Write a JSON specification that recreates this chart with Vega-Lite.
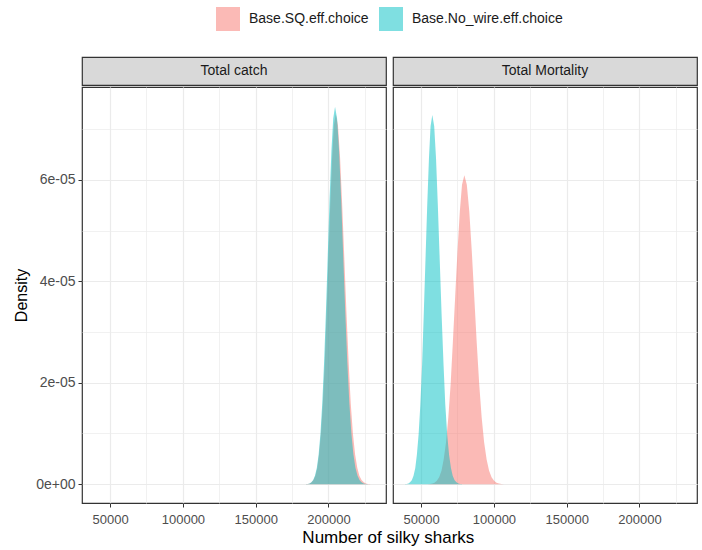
{
  "$schema": "https://vega.github.io/schema/vega-lite/v6.json",
  "autosize": {"type": "pad"},
  "padding": {"left": 13, "top": 7, "right": 4, "bottom": 4},
  "background": "white",
  "title": {
    "text": "Number of silky sharks",
    "orient": "bottom",
    "anchor": "middle",
    "font": "Liberation Sans",
    "fontSize": 17,
    "fontWeight": "normal",
    "color": "#000000",
    "offset": 3,
    "dx": 33
  },
  "datasets": {
    "strips": [{"panel": "Total catch"}, {"panel": "Total Mortality"}],
    "dens": [
      {"panel": "Total catch", "series": "Base.SQ.eff.choice", "x": 184600, "density": 0.0022e-5},
      {"panel": "Total catch", "series": "Base.SQ.eff.choice", "x": 185900, "density": 0.0066e-5},
      {"panel": "Total catch", "series": "Base.SQ.eff.choice", "x": 187200, "density": 0.0161e-5},
      {"panel": "Total catch", "series": "Base.SQ.eff.choice", "x": 188400, "density": 0.0372e-5},
      {"panel": "Total catch", "series": "Base.SQ.eff.choice", "x": 189700, "density": 0.0810e-5},
      {"panel": "Total catch", "series": "Base.SQ.eff.choice", "x": 191000, "density": 0.166e-5},
      {"panel": "Total catch", "series": "Base.SQ.eff.choice", "x": 192300, "density": 0.320e-5},
      {"panel": "Total catch", "series": "Base.SQ.eff.choice", "x": 193500, "density": 0.581e-5},
      {"panel": "Total catch", "series": "Base.SQ.eff.choice", "x": 194800, "density": 0.988e-5},
      {"panel": "Total catch", "series": "Base.SQ.eff.choice", "x": 196100, "density": 1.579e-5},
      {"panel": "Total catch", "series": "Base.SQ.eff.choice", "x": 197400, "density": 2.370e-5},
      {"panel": "Total catch", "series": "Base.SQ.eff.choice", "x": 198600, "density": 3.342e-5},
      {"panel": "Total catch", "series": "Base.SQ.eff.choice", "x": 199900, "density": 4.427e-5},
      {"panel": "Total catch", "series": "Base.SQ.eff.choice", "x": 201200, "density": 5.510e-5},
      {"panel": "Total catch", "series": "Base.SQ.eff.choice", "x": 202500, "density": 6.442e-5},
      {"panel": "Total catch", "series": "Base.SQ.eff.choice", "x": 203700, "density": 7.075e-5},
      {"panel": "Total catch", "series": "Base.SQ.eff.choice", "x": 205000, "density": 7.30e-5},
      {"panel": "Total catch", "series": "Base.SQ.eff.choice", "x": 206500, "density": 7.075e-5},
      {"panel": "Total catch", "series": "Base.SQ.eff.choice", "x": 207950, "density": 6.442e-5},
      {"panel": "Total catch", "series": "Base.SQ.eff.choice", "x": 209400, "density": 5.510e-5},
      {"panel": "Total catch", "series": "Base.SQ.eff.choice", "x": 210900, "density": 4.427e-5},
      {"panel": "Total catch", "series": "Base.SQ.eff.choice", "x": 212400, "density": 3.342e-5},
      {"panel": "Total catch", "series": "Base.SQ.eff.choice", "x": 213900, "density": 2.370e-5},
      {"panel": "Total catch", "series": "Base.SQ.eff.choice", "x": 215300, "density": 1.579e-5},
      {"panel": "Total catch", "series": "Base.SQ.eff.choice", "x": 216800, "density": 0.988e-5},
      {"panel": "Total catch", "series": "Base.SQ.eff.choice", "x": 218300, "density": 0.581e-5},
      {"panel": "Total catch", "series": "Base.SQ.eff.choice", "x": 219800, "density": 0.320e-5},
      {"panel": "Total catch", "series": "Base.SQ.eff.choice", "x": 221200, "density": 0.166e-5},
      {"panel": "Total catch", "series": "Base.SQ.eff.choice", "x": 222700, "density": 0.0810e-5},
      {"panel": "Total catch", "series": "Base.SQ.eff.choice", "x": 224200, "density": 0.0372e-5},
      {"panel": "Total catch", "series": "Base.SQ.eff.choice", "x": 225700, "density": 0.0161e-5},
      {"panel": "Total catch", "series": "Base.SQ.eff.choice", "x": 227100, "density": 0.0066e-5},
      {"panel": "Total catch", "series": "Base.SQ.eff.choice", "x": 228600, "density": 0.0022e-5},

      {"panel": "Total catch", "series": "Base.No_wire.eff.choice", "x": 184500, "density": 0.0022e-5},
      {"panel": "Total catch", "series": "Base.No_wire.eff.choice", "x": 185750, "density": 0.0067e-5},
      {"panel": "Total catch", "series": "Base.No_wire.eff.choice", "x": 187000, "density": 0.0164e-5},
      {"panel": "Total catch", "series": "Base.No_wire.eff.choice", "x": 188250, "density": 0.0379e-5},
      {"panel": "Total catch", "series": "Base.No_wire.eff.choice", "x": 189500, "density": 0.0826e-5},
      {"panel": "Total catch", "series": "Base.No_wire.eff.choice", "x": 190750, "density": 0.170e-5},
      {"panel": "Total catch", "series": "Base.No_wire.eff.choice", "x": 192000, "density": 0.327e-5},
      {"panel": "Total catch", "series": "Base.No_wire.eff.choice", "x": 193250, "density": 0.592e-5},
      {"panel": "Total catch", "series": "Base.No_wire.eff.choice", "x": 194500, "density": 1.007e-5},
      {"panel": "Total catch", "series": "Base.No_wire.eff.choice", "x": 195750, "density": 1.609e-5},
      {"panel": "Total catch", "series": "Base.No_wire.eff.choice", "x": 197000, "density": 2.416e-5},
      {"panel": "Total catch", "series": "Base.No_wire.eff.choice", "x": 198250, "density": 3.406e-5},
      {"panel": "Total catch", "series": "Base.No_wire.eff.choice", "x": 199500, "density": 4.512e-5},
      {"panel": "Total catch", "series": "Base.No_wire.eff.choice", "x": 200750, "density": 5.616e-5},
      {"panel": "Total catch", "series": "Base.No_wire.eff.choice", "x": 202000, "density": 6.566e-5},
      {"panel": "Total catch", "series": "Base.No_wire.eff.choice", "x": 203250, "density": 7.211e-5},
      {"panel": "Total catch", "series": "Base.No_wire.eff.choice", "x": 204500, "density": 7.44e-5},
      {"panel": "Total catch", "series": "Base.No_wire.eff.choice", "x": 205900, "density": 7.211e-5},
      {"panel": "Total catch", "series": "Base.No_wire.eff.choice", "x": 207300, "density": 6.566e-5},
      {"panel": "Total catch", "series": "Base.No_wire.eff.choice", "x": 208700, "density": 5.616e-5},
      {"panel": "Total catch", "series": "Base.No_wire.eff.choice", "x": 210100, "density": 4.512e-5},
      {"panel": "Total catch", "series": "Base.No_wire.eff.choice", "x": 211500, "density": 3.406e-5},
      {"panel": "Total catch", "series": "Base.No_wire.eff.choice", "x": 212900, "density": 2.416e-5},
      {"panel": "Total catch", "series": "Base.No_wire.eff.choice", "x": 214300, "density": 1.609e-5},
      {"panel": "Total catch", "series": "Base.No_wire.eff.choice", "x": 215700, "density": 1.007e-5},
      {"panel": "Total catch", "series": "Base.No_wire.eff.choice", "x": 217100, "density": 0.592e-5},
      {"panel": "Total catch", "series": "Base.No_wire.eff.choice", "x": 218500, "density": 0.327e-5},
      {"panel": "Total catch", "series": "Base.No_wire.eff.choice", "x": 219900, "density": 0.170e-5},
      {"panel": "Total catch", "series": "Base.No_wire.eff.choice", "x": 221300, "density": 0.0826e-5},
      {"panel": "Total catch", "series": "Base.No_wire.eff.choice", "x": 222700, "density": 0.0379e-5},
      {"panel": "Total catch", "series": "Base.No_wire.eff.choice", "x": 224100, "density": 0.0164e-5},
      {"panel": "Total catch", "series": "Base.No_wire.eff.choice", "x": 225500, "density": 0.0067e-5},
      {"panel": "Total catch", "series": "Base.No_wire.eff.choice", "x": 226900, "density": 0.0022e-5},

      {"panel": "Total Mortality", "series": "Base.SQ.eff.choice", "x": 54500, "density": 0.0018e-5},
      {"panel": "Total Mortality", "series": "Base.SQ.eff.choice", "x": 56100, "density": 0.0055e-5},
      {"panel": "Total Mortality", "series": "Base.SQ.eff.choice", "x": 57700, "density": 0.0134e-5},
      {"panel": "Total Mortality", "series": "Base.SQ.eff.choice", "x": 59200, "density": 0.0311e-5},
      {"panel": "Total Mortality", "series": "Base.SQ.eff.choice", "x": 60800, "density": 0.0676e-5},
      {"panel": "Total Mortality", "series": "Base.SQ.eff.choice", "x": 62400, "density": 0.139e-5},
      {"panel": "Total Mortality", "series": "Base.SQ.eff.choice", "x": 64000, "density": 0.267e-5},
      {"panel": "Total Mortality", "series": "Base.SQ.eff.choice", "x": 65500, "density": 0.485e-5},
      {"panel": "Total Mortality", "series": "Base.SQ.eff.choice", "x": 67100, "density": 0.824e-5},
      {"panel": "Total Mortality", "series": "Base.SQ.eff.choice", "x": 68700, "density": 1.317e-5},
      {"panel": "Total Mortality", "series": "Base.SQ.eff.choice", "x": 70300, "density": 1.977e-5},
      {"panel": "Total Mortality", "series": "Base.SQ.eff.choice", "x": 71800, "density": 2.788e-5},
      {"panel": "Total Mortality", "series": "Base.SQ.eff.choice", "x": 73400, "density": 3.694e-5},
      {"panel": "Total Mortality", "series": "Base.SQ.eff.choice", "x": 75000, "density": 4.597e-5},
      {"panel": "Total Mortality", "series": "Base.SQ.eff.choice", "x": 76600, "density": 5.374e-5},
      {"panel": "Total Mortality", "series": "Base.SQ.eff.choice", "x": 78100, "density": 5.902e-5},
      {"panel": "Total Mortality", "series": "Base.SQ.eff.choice", "x": 79700, "density": 6.09e-5},
      {"panel": "Total Mortality", "series": "Base.SQ.eff.choice", "x": 81400, "density": 5.902e-5},
      {"panel": "Total Mortality", "series": "Base.SQ.eff.choice", "x": 83100, "density": 5.374e-5},
      {"panel": "Total Mortality", "series": "Base.SQ.eff.choice", "x": 84800, "density": 4.597e-5},
      {"panel": "Total Mortality", "series": "Base.SQ.eff.choice", "x": 86500, "density": 3.694e-5},
      {"panel": "Total Mortality", "series": "Base.SQ.eff.choice", "x": 88200, "density": 2.788e-5},
      {"panel": "Total Mortality", "series": "Base.SQ.eff.choice", "x": 89900, "density": 1.977e-5},
      {"panel": "Total Mortality", "series": "Base.SQ.eff.choice", "x": 91600, "density": 1.317e-5},
      {"panel": "Total Mortality", "series": "Base.SQ.eff.choice", "x": 93300, "density": 0.824e-5},
      {"panel": "Total Mortality", "series": "Base.SQ.eff.choice", "x": 95000, "density": 0.485e-5},
      {"panel": "Total Mortality", "series": "Base.SQ.eff.choice", "x": 96700, "density": 0.267e-5},
      {"panel": "Total Mortality", "series": "Base.SQ.eff.choice", "x": 98400, "density": 0.139e-5},
      {"panel": "Total Mortality", "series": "Base.SQ.eff.choice", "x": 100100, "density": 0.0676e-5},
      {"panel": "Total Mortality", "series": "Base.SQ.eff.choice", "x": 101800, "density": 0.0311e-5},
      {"panel": "Total Mortality", "series": "Base.SQ.eff.choice", "x": 103500, "density": 0.0134e-5},
      {"panel": "Total Mortality", "series": "Base.SQ.eff.choice", "x": 105200, "density": 0.0055e-5},
      {"panel": "Total Mortality", "series": "Base.SQ.eff.choice", "x": 106900, "density": 0.0018e-5},

      {"panel": "Total Mortality", "series": "Base.No_wire.eff.choice", "x": 38900, "density": 0.0022e-5},
      {"panel": "Total Mortality", "series": "Base.No_wire.eff.choice", "x": 40100, "density": 0.0066e-5},
      {"panel": "Total Mortality", "series": "Base.No_wire.eff.choice", "x": 41300, "density": 0.0160e-5},
      {"panel": "Total Mortality", "series": "Base.No_wire.eff.choice", "x": 42400, "density": 0.0371e-5},
      {"panel": "Total Mortality", "series": "Base.No_wire.eff.choice", "x": 43600, "density": 0.0808e-5},
      {"panel": "Total Mortality", "series": "Base.No_wire.eff.choice", "x": 44800, "density": 0.166e-5},
      {"panel": "Total Mortality", "series": "Base.No_wire.eff.choice", "x": 46000, "density": 0.320e-5},
      {"panel": "Total Mortality", "series": "Base.No_wire.eff.choice", "x": 47100, "density": 0.579e-5},
      {"panel": "Total Mortality", "series": "Base.No_wire.eff.choice", "x": 48300, "density": 0.985e-5},
      {"panel": "Total Mortality", "series": "Base.No_wire.eff.choice", "x": 49500, "density": 1.575e-5},
      {"panel": "Total Mortality", "series": "Base.No_wire.eff.choice", "x": 50700, "density": 2.364e-5},
      {"panel": "Total Mortality", "series": "Base.No_wire.eff.choice", "x": 51800, "density": 3.333e-5},
      {"panel": "Total Mortality", "series": "Base.No_wire.eff.choice", "x": 53000, "density": 4.415e-5},
      {"panel": "Total Mortality", "series": "Base.No_wire.eff.choice", "x": 54200, "density": 5.495e-5},
      {"panel": "Total Mortality", "series": "Base.No_wire.eff.choice", "x": 55400, "density": 6.425e-5},
      {"panel": "Total Mortality", "series": "Base.No_wire.eff.choice", "x": 56500, "density": 7.056e-5},
      {"panel": "Total Mortality", "series": "Base.No_wire.eff.choice", "x": 57700, "density": 7.28e-5},
      {"panel": "Total Mortality", "series": "Base.No_wire.eff.choice", "x": 59000, "density": 7.056e-5},
      {"panel": "Total Mortality", "series": "Base.No_wire.eff.choice", "x": 60250, "density": 6.425e-5},
      {"panel": "Total Mortality", "series": "Base.No_wire.eff.choice", "x": 61500, "density": 5.495e-5},
      {"panel": "Total Mortality", "series": "Base.No_wire.eff.choice", "x": 62800, "density": 4.415e-5},
      {"panel": "Total Mortality", "series": "Base.No_wire.eff.choice", "x": 64100, "density": 3.333e-5},
      {"panel": "Total Mortality", "series": "Base.No_wire.eff.choice", "x": 65400, "density": 2.364e-5},
      {"panel": "Total Mortality", "series": "Base.No_wire.eff.choice", "x": 66600, "density": 1.575e-5},
      {"panel": "Total Mortality", "series": "Base.No_wire.eff.choice", "x": 67900, "density": 0.985e-5},
      {"panel": "Total Mortality", "series": "Base.No_wire.eff.choice", "x": 69200, "density": 0.579e-5},
      {"panel": "Total Mortality", "series": "Base.No_wire.eff.choice", "x": 70500, "density": 0.320e-5},
      {"panel": "Total Mortality", "series": "Base.No_wire.eff.choice", "x": 71700, "density": 0.166e-5},
      {"panel": "Total Mortality", "series": "Base.No_wire.eff.choice", "x": 73000, "density": 0.0808e-5},
      {"panel": "Total Mortality", "series": "Base.No_wire.eff.choice", "x": 74300, "density": 0.0371e-5},
      {"panel": "Total Mortality", "series": "Base.No_wire.eff.choice", "x": 75600, "density": 0.0160e-5},
      {"panel": "Total Mortality", "series": "Base.No_wire.eff.choice", "x": 76800, "density": 0.0066e-5},
      {"panel": "Total Mortality", "series": "Base.No_wire.eff.choice", "x": 78100, "density": 0.0022e-5}
    ]
  },
  "config": {
    "font": "Liberation Sans",
    "view": {"stroke": "#333333", "strokeWidth": 1.2},
    "axis": {
      "domain": false,
      "gridColor": "#EBEBEB",
      "tickColor": "#333333",
      "tickSize": 4,
      "labelColor": "#4D4D4D",
      "labelFont": "Liberation Sans",
      "labelFontSize": 13,
      "labelPadding": 3,
      "labelOverlap": false,
      "labelFlush": false,
      "titleFont": "Liberation Sans",
      "titleFontSize": 16,
      "titleFontWeight": "normal",
      "titleColor": "#000000"
    },
    "axisX": {"labelPadding": 6},
    "legend": {
      "labelFont": "Liberation Sans",
      "labelFontSize": 14,
      "labelColor": "#1A1A1A"
    }
  },
  "spacing": 5,
  "hconcat": [
    {
      "spacing": 0,
      "vconcat": [
        {
          "width": 304,
          "height": 28,
          "data": {"name": "strips"},
          "transform": [{"filter": "datum.panel == 'Total catch'"}],
          "view": {"fill": "#D9D9D9", "stroke": "#333333", "strokeWidth": 1.2},
          "mark": {"type": "text", "font": "Liberation Sans", "fontSize": 14, "color": "#1A1A1A"},
          "encoding": {"text": {"field": "panel", "type": "nominal"}}
        },
        {
          "width": 304,
          "height": 416,
          "data": {"name": "dens"},
          "transform": [{"filter": "datum.panel == 'Total catch'"}],
          "encoding": {
            "x": {
              "field": "x", "type": "quantitative",
              "scale": {"domain": [30700, 239500], "nice": false, "zero": false},
              "axis": {
                "values": [50000, 75000, 100000, 125000, 150000, 175000, 200000, 225000],
                "labelExpr": "datum.value % 50000 == 0 ? format(datum.value, 'd') : ''",
                "tickOpacity": {"condition": {"test": "datum.value % 50000 != 0", "value": 0}, "value": 1},
                "gridWidth": {"condition": {"test": "datum.value % 50000 != 0", "value": 0.7}, "value": 1.2},
                "title": null
              }
            },
            "y": {
              "field": "density", "type": "quantitative",
              "scale": {"domain": [-3.7e-6, 7.83e-5], "nice": false, "zero": false},
              "axis": {
                "values": [0, 1e-5, 2e-5, 3e-5, 4e-5, 5e-5, 6e-5, 7e-5],
                "labelExpr": "round(datum.value*1e5) % 2 == 1 ? '' : (datum.value == 0 ? '0e+00' : format(round(datum.value*1e5), 'd') + 'e-05')",
                "tickOpacity": {"condition": {"test": "round(datum.value*1e5) % 2 == 1", "value": 0}, "value": 1},
                "gridWidth": {"condition": {"test": "round(datum.value*1e5) % 2 == 1", "value": 0.7}, "value": 1.2},
                "labelFontSize": 14,
                "title": "Density",
                "titlePadding": 6
              }
            },
            "y2": {"datum": 0},
            "color": {
              "field": "series", "type": "nominal",
              "scale": {"domain": ["Base.SQ.eff.choice", "Base.No_wire.eff.choice"], "range": ["#F8766D", "#00BFC4"]},
              "legend": {
                "title": null,
                "orient": "none",
                "direction": "horizontal",
                "legendX": 134,
                "legendY": -50,
                "symbolType": "square",
                "symbolSize": 576,
                "symbolOpacity": 0.5,
                "symbolStrokeWidth": 0,
                "labelOffset": 9,
                "columnPadding": 10,
                "padding": 0
              }
            }
          },
          "layer": [
            {"transform": [{"filter": "datum.series == 'Base.SQ.eff.choice'"}], "mark": {"type": "area", "opacity": 0.5}},
            {"transform": [{"filter": "datum.series == 'Base.No_wire.eff.choice'"}], "mark": {"type": "area", "opacity": 0.5}}
          ]
        }
      ]
    },
    {
      "spacing": 0,
      "vconcat": [
        {
          "width": 304,
          "height": 28,
          "data": {"name": "strips"},
          "transform": [{"filter": "datum.panel == 'Total Mortality'"}],
          "view": {"fill": "#D9D9D9", "stroke": "#333333", "strokeWidth": 1.2},
          "mark": {"type": "text", "font": "Liberation Sans", "fontSize": 14, "color": "#1A1A1A"},
          "encoding": {"text": {"field": "panel", "type": "nominal"}}
        },
        {
          "width": 304,
          "height": 416,
          "data": {"name": "dens"},
          "transform": [{"filter": "datum.panel == 'Total Mortality'"}],
          "encoding": {
            "x": {
              "field": "x", "type": "quantitative",
              "scale": {"domain": [30700, 239500], "nice": false, "zero": false},
              "axis": {
                "values": [50000, 75000, 100000, 125000, 150000, 175000, 200000, 225000],
                "labelExpr": "datum.value % 50000 == 0 ? format(datum.value, 'd') : ''",
                "tickOpacity": {"condition": {"test": "datum.value % 50000 != 0", "value": 0}, "value": 1},
                "gridWidth": {"condition": {"test": "datum.value % 50000 != 0", "value": 0.7}, "value": 1.2},
                "title": null
              }
            },
            "y": {
              "field": "density", "type": "quantitative",
              "scale": {"domain": [-3.7e-6, 7.83e-5], "nice": false, "zero": false},
              "axis": {
                "values": [0, 1e-5, 2e-5, 3e-5, 4e-5, 5e-5, 6e-5, 7e-5],
                "labels": false,
                "ticks": false,
                "gridWidth": {"condition": {"test": "round(datum.value*1e5) % 2 == 1", "value": 0.7}, "value": 1.2},
                "title": null
              }
            },
            "y2": {"datum": 0},
            "color": {
              "field": "series", "type": "nominal",
              "scale": {"domain": ["Base.SQ.eff.choice", "Base.No_wire.eff.choice"], "range": ["#F8766D", "#00BFC4"]}
            }
          },
          "layer": [
            {"transform": [{"filter": "datum.series == 'Base.SQ.eff.choice'"}], "mark": {"type": "area", "opacity": 0.5}},
            {"transform": [{"filter": "datum.series == 'Base.No_wire.eff.choice'"}], "mark": {"type": "area", "opacity": 0.5}}
          ]
        }
      ]
    }
  ]
}
